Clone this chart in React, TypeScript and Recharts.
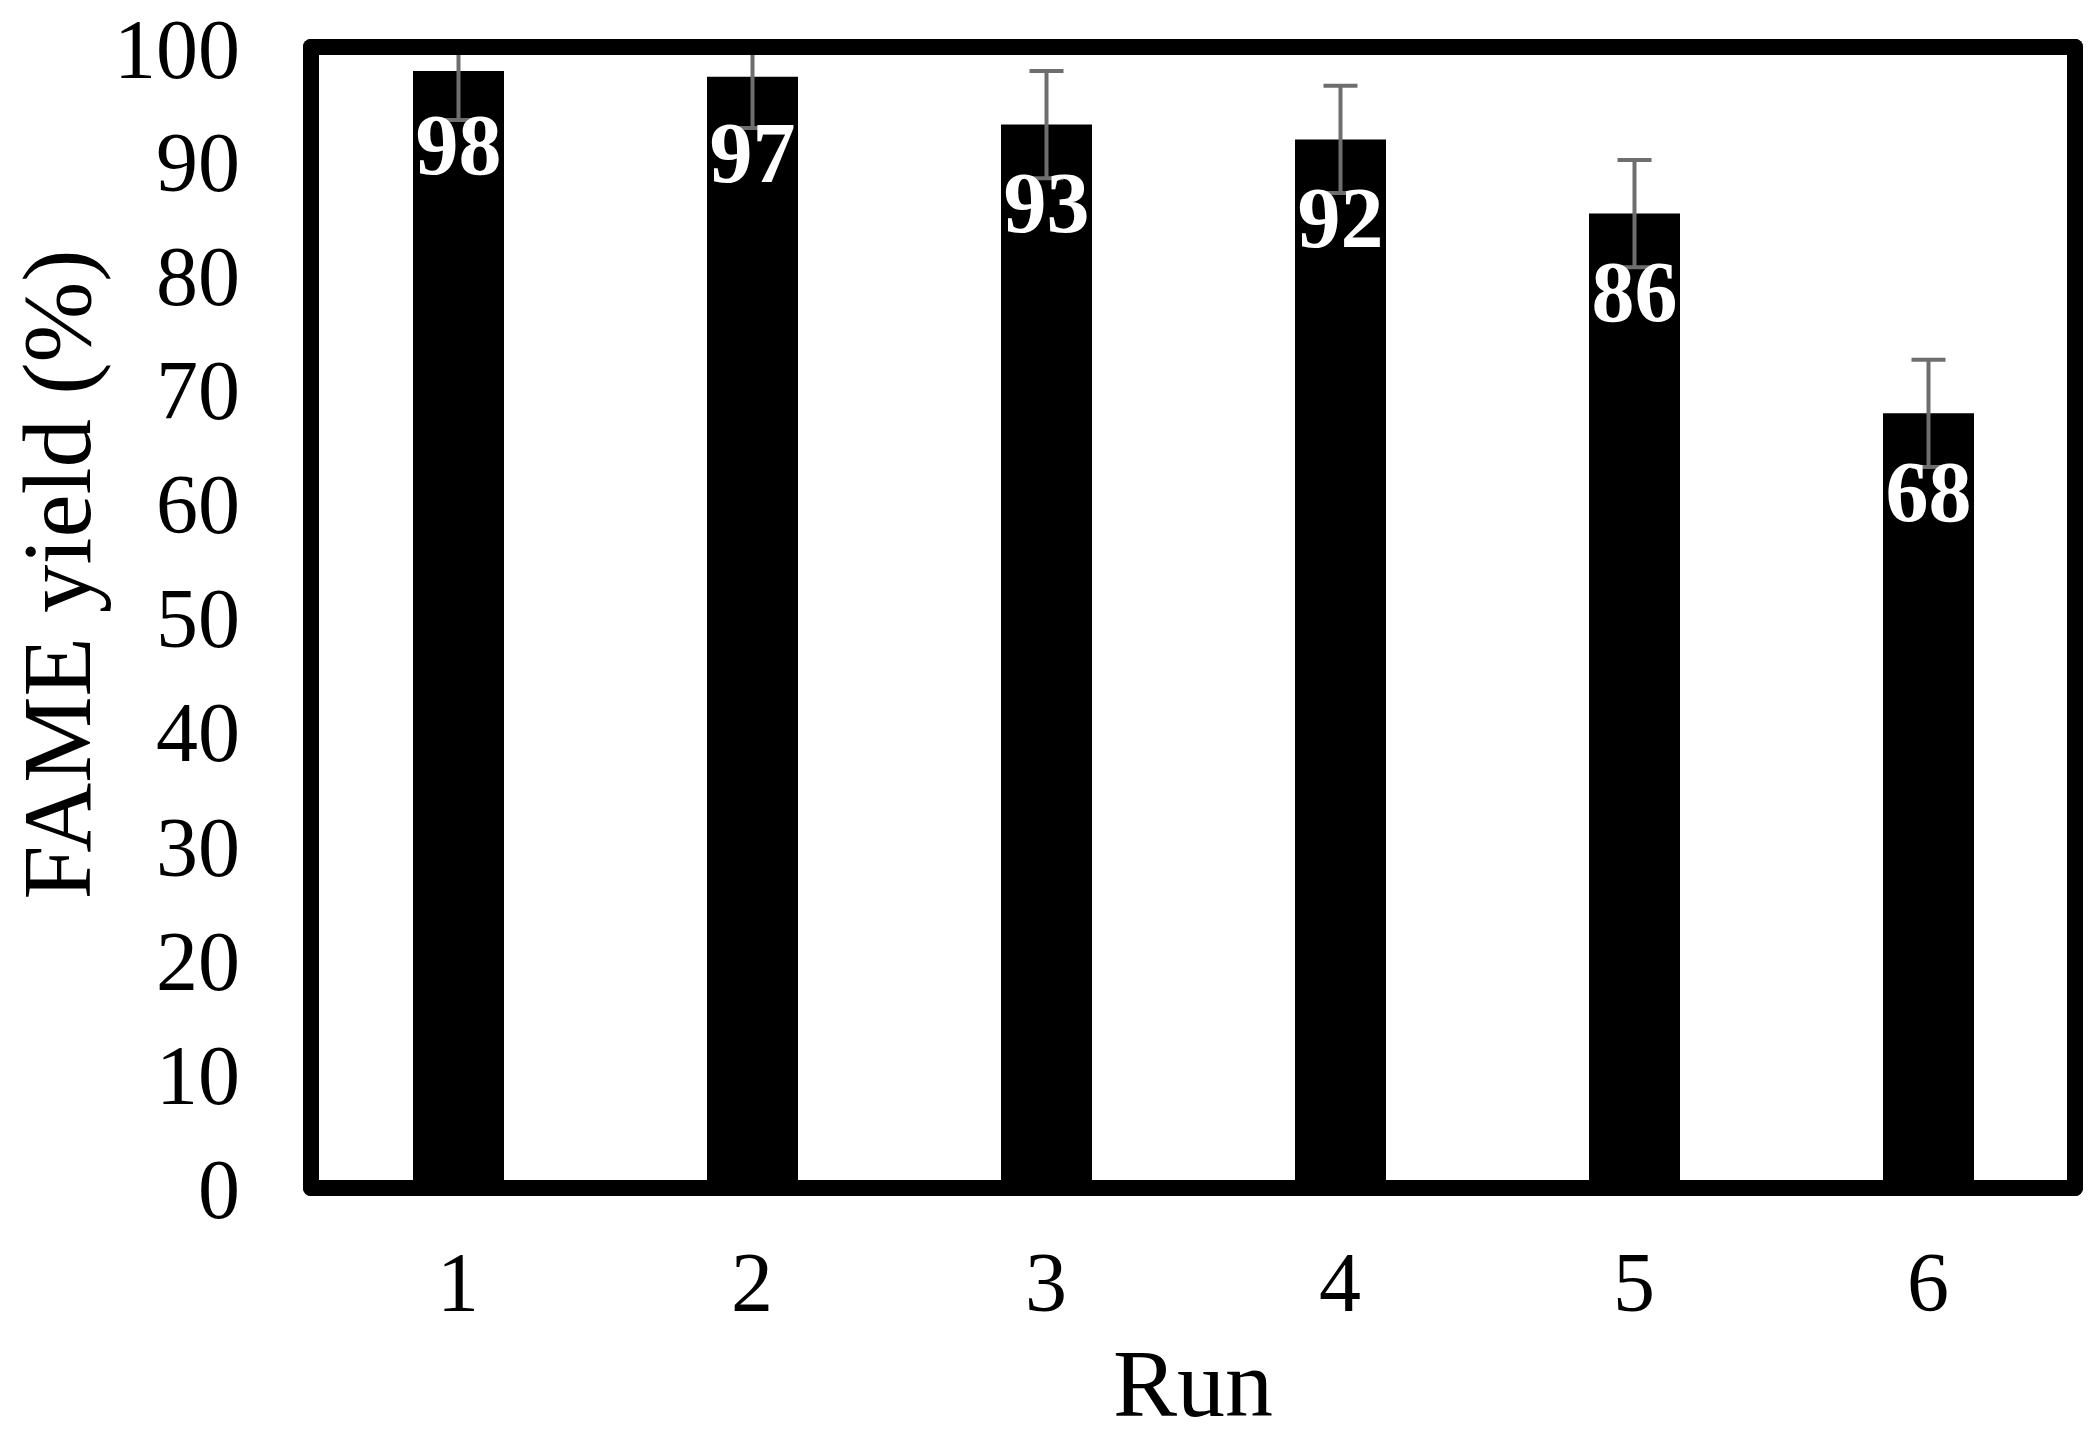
import { BarChart, Bar, XAxis, YAxis, ErrorBar, LabelList } from "recharts";

const runs = ["1", "2", "3", "4", "5", "6"];
const yields = [97.9, 97.4, 93.2, 91.9, 85.4, 67.9];
const errors = [4.3, 4.5, 4.7, 4.7, 4.7, 4.7];
const valueLabels = ["98", "97", "93", "92", "86", "68"];
const yTicks = [0, 10, 20, 30, 40, 50, 60, 70, 80, 90, 100];
const Y_MAX = 100;

const FONT = "'Liberation Serif', 'Times New Roman', serif";

// the upper whisker disappears into the frame, so stop it at the axis top
const data = runs.map((run, i) => ({
  run,
  yield: yields[i],
  err: [errors[i], Math.min(errors[i], Y_MAX - yields[i])],
}));

const border = {
  stroke: "#000",
  strokeWidth: 16,
  strokeLinecap: "round" as const,
};

const ValueLabel = (props: any) => {
  const { x, y, width, height, index } = props;
  const perUnit = height / yields[index];
  const lower = y + errors[index] * perUnit;
  return (
    <text
      x={x + width / 2}
      y={lower + 54}
      textAnchor="middle"
      fill="#fff"
      fontFamily={FONT}
      fontWeight="bold"
      fontSize={86}
    >
      {valueLabels[index]}
    </text>
  );
};

const YTitle = (props: any) => {
  const { viewBox } = props;
  const cx = viewBox.x + 90;
  const cy = viewBox.y + viewBox.height / 2 - 43;
  return (
    <text
      x={cx}
      y={cy}
      transform={`rotate(-90, ${cx}, ${cy})`}
      textAnchor="middle"
      fontFamily={FONT}
      fontSize={97}
      fill="#000"
    >
      FAME yield (%)
    </text>
  );
};

const XTitle = (props: any) => {
  const { viewBox } = props;
  return (
    <text
      x={viewBox.x + viewBox.width / 2}
      y={viewBox.y + 228}
      textAnchor="middle"
      fontFamily={FONT}
      fontSize={96}
      fill="#000"
    >
      Run
    </text>
  );
};

export default function App() {
  return (
    <div style={{ position: "absolute", left: 0, top: 0, background: "#fff" }}>
      <BarChart
        width={2092}
        height={1438}
        data={data}
        margin={{ top: 46, right: 16, bottom: 0, left: 0 }}
      >
        <XAxis
          dataKey="run"
          height={250}
          axisLine={border}
          tickLine={false}
          tickSize={0}
          tickMargin={63}
          tick={{ fontFamily: FONT, fontSize: 84, fill: "#000" }}
          label={{ content: XTitle }}
        />
        <XAxis
          xAxisId="top"
          dataKey="run"
          orientation="top"
          height={1}
          axisLine={border}
          tickLine={false}
          tick={false}
        />
        <YAxis
          width={311}
          domain={[0, Y_MAX]}
          ticks={yTicks}
          allowDataOverflow
          axisLine={border}
          tickLine={false}
          tickSize={0}
          tickMargin={71}
          tick={{ fontFamily: FONT, fontSize: 84, fill: "#000" }}
          label={{ content: YTitle }}
        />
        <YAxis
          yAxisId="right"
          orientation="right"
          width={1}
          domain={[0, Y_MAX]}
          axisLine={border}
          tickLine={false}
          tick={false}
        />
        <Bar dataKey="yield" fill="#000" barSize={91} isAnimationActive={false}>
          <ErrorBar
            dataKey="err"
            width={17}
            strokeWidth={4}
            stroke="#6e6e6e"
            direction="y"
            isAnimationActive={false}
          />
          <LabelList dataKey="yield" content={ValueLabel} />
        </Bar>
      </BarChart>
    </div>
  );
}
